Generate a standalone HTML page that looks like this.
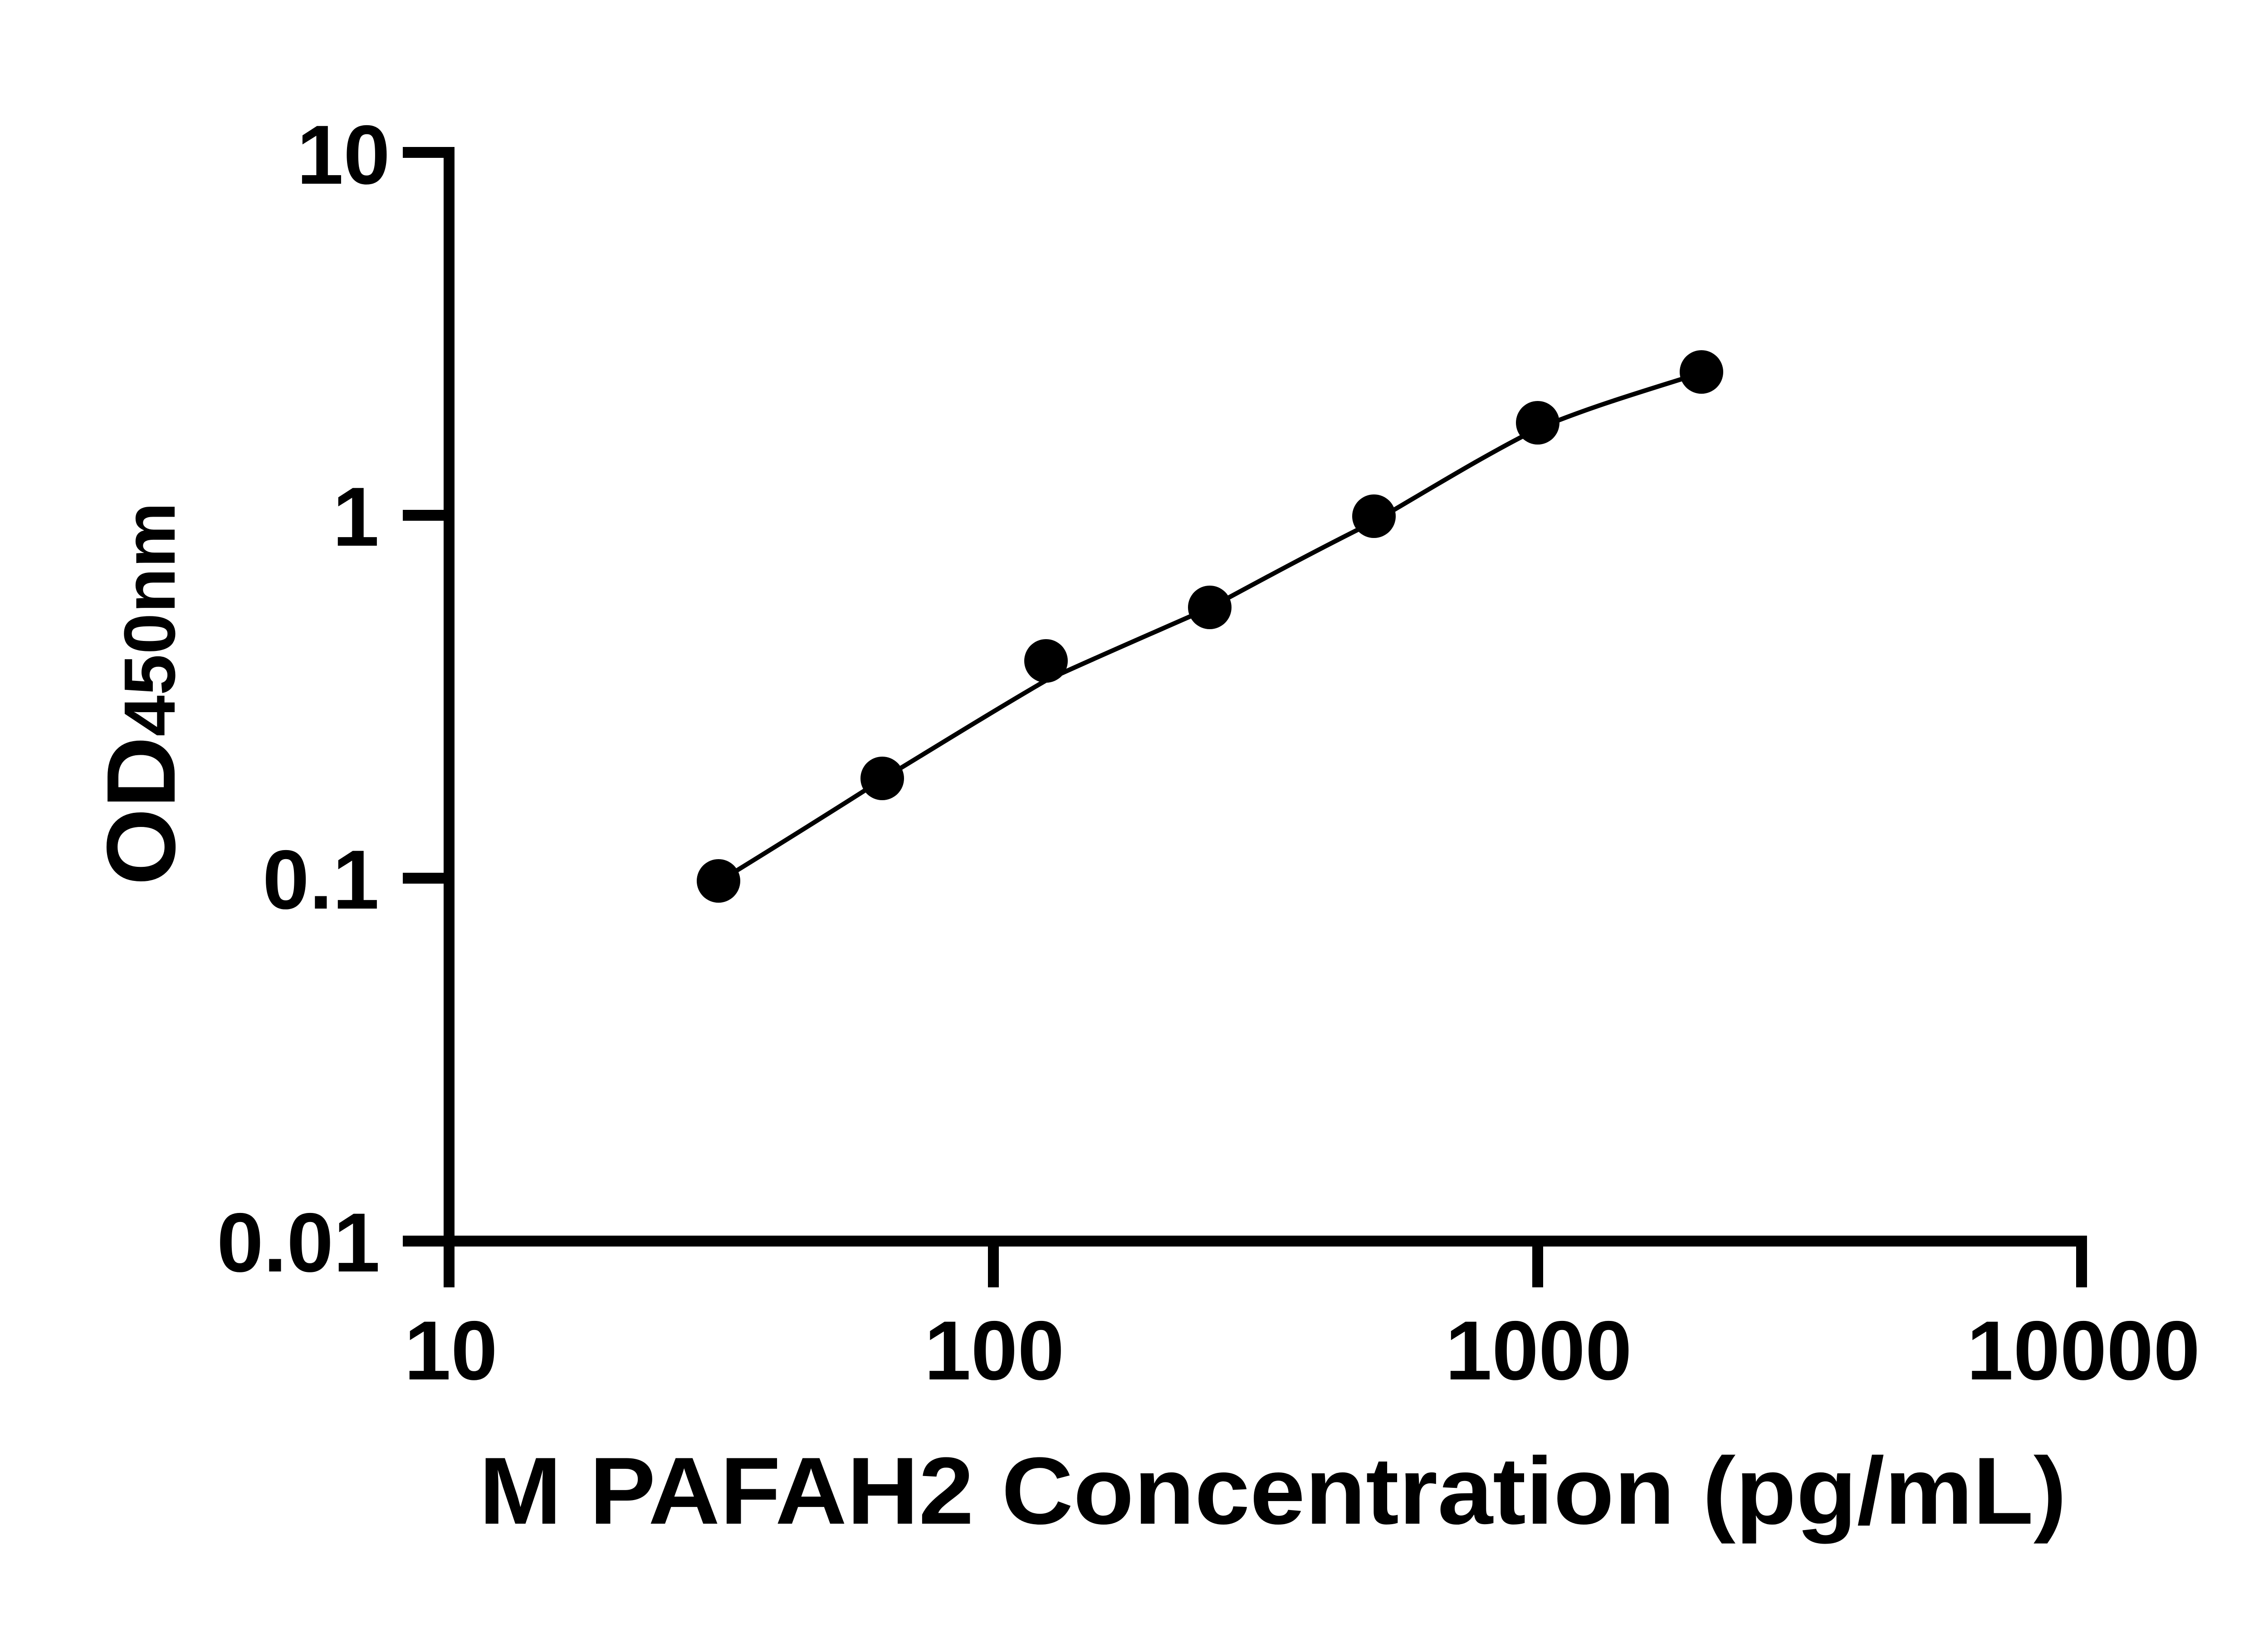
<!DOCTYPE html>
<html><head><style>html,body{margin:0;padding:0;background:#fff}svg{display:block}</style></head>
<body>
<svg width="5142" height="3600" viewBox="0 0 5142 3600" xmlns="http://www.w3.org/2000/svg">
<rect width="5142" height="3600" fill="#fff"/>
<g stroke="#000" stroke-width="24" fill="none" stroke-linecap="butt">
<line x1="990" y1="324" x2="990" y2="2748"/>
<line x1="978" y1="2736" x2="4601" y2="2736"/>
<line x1="888" y1="336" x2="1002" y2="336"/>
<line x1="888" y1="1136" x2="990" y2="1136"/>
<line x1="888" y1="1936" x2="990" y2="1936"/>
<line x1="888" y1="2736" x2="990" y2="2736"/>
<line x1="990" y1="2736" x2="990" y2="2838"/>
<line x1="2190" y1="2736" x2="2190" y2="2838"/>
<line x1="3390" y1="2736" x2="3390" y2="2838"/>
<line x1="4589" y1="2724" x2="4589" y2="2838"/>
</g>
<g font-family="Liberation Sans, Arial, sans-serif" font-weight="bold" font-size="185" fill="#000">
<text x="860" y="405" text-anchor="end">10</text>
<text x="836" y="1203" text-anchor="end">1</text>
<text x="836" y="2003" text-anchor="end">0.1</text>
<text x="838" y="2803" text-anchor="end">0.01</text>
<text x="994" y="3041" text-anchor="middle">10</text>
<text x="2192" y="3041" text-anchor="middle">100</text>
<text x="3392" y="3041" text-anchor="middle">1000</text>
<text x="4593" y="3041" text-anchor="middle">10000</text>
</g>
<text x="1056" y="3359" font-family="Liberation Sans, Arial, sans-serif" font-weight="bold" font-size="210" textLength="3500" lengthAdjust="spacingAndGlyphs">M PAFAH2 Concentration (pg/mL)</text>
<text transform="translate(385,1952) rotate(-90)" font-family="Liberation Sans, Arial, sans-serif" font-weight="bold" textLength="845" lengthAdjust="spacingAndGlyphs"><tspan font-size="215">OD</tspan><tspan font-size="160">450nm</tspan></text>
<path d="M1584,1944 C1704,1870 1825,1795 1945,1718 C2065,1645 2186,1570 2306,1500 C2426,1445 2547,1393 2667,1340 C2787,1275 2908,1210 3029,1150 C3149,1080 3270,1005 3390,945 C3510,895 3631,860 3751,822" stroke="#000" stroke-width="10" fill="none"/>
<g fill="#000">
<circle cx="1584" cy="1942" r="48"/>
<circle cx="1945" cy="1716" r="48"/>
<circle cx="2306" cy="1457" r="48"/>
<circle cx="2667" cy="1339" r="48"/>
<circle cx="3029" cy="1138" r="48"/>
<circle cx="3390" cy="932" r="48"/>
<circle cx="3751" cy="820" r="48"/>
</g>
</svg>
</body></html>
